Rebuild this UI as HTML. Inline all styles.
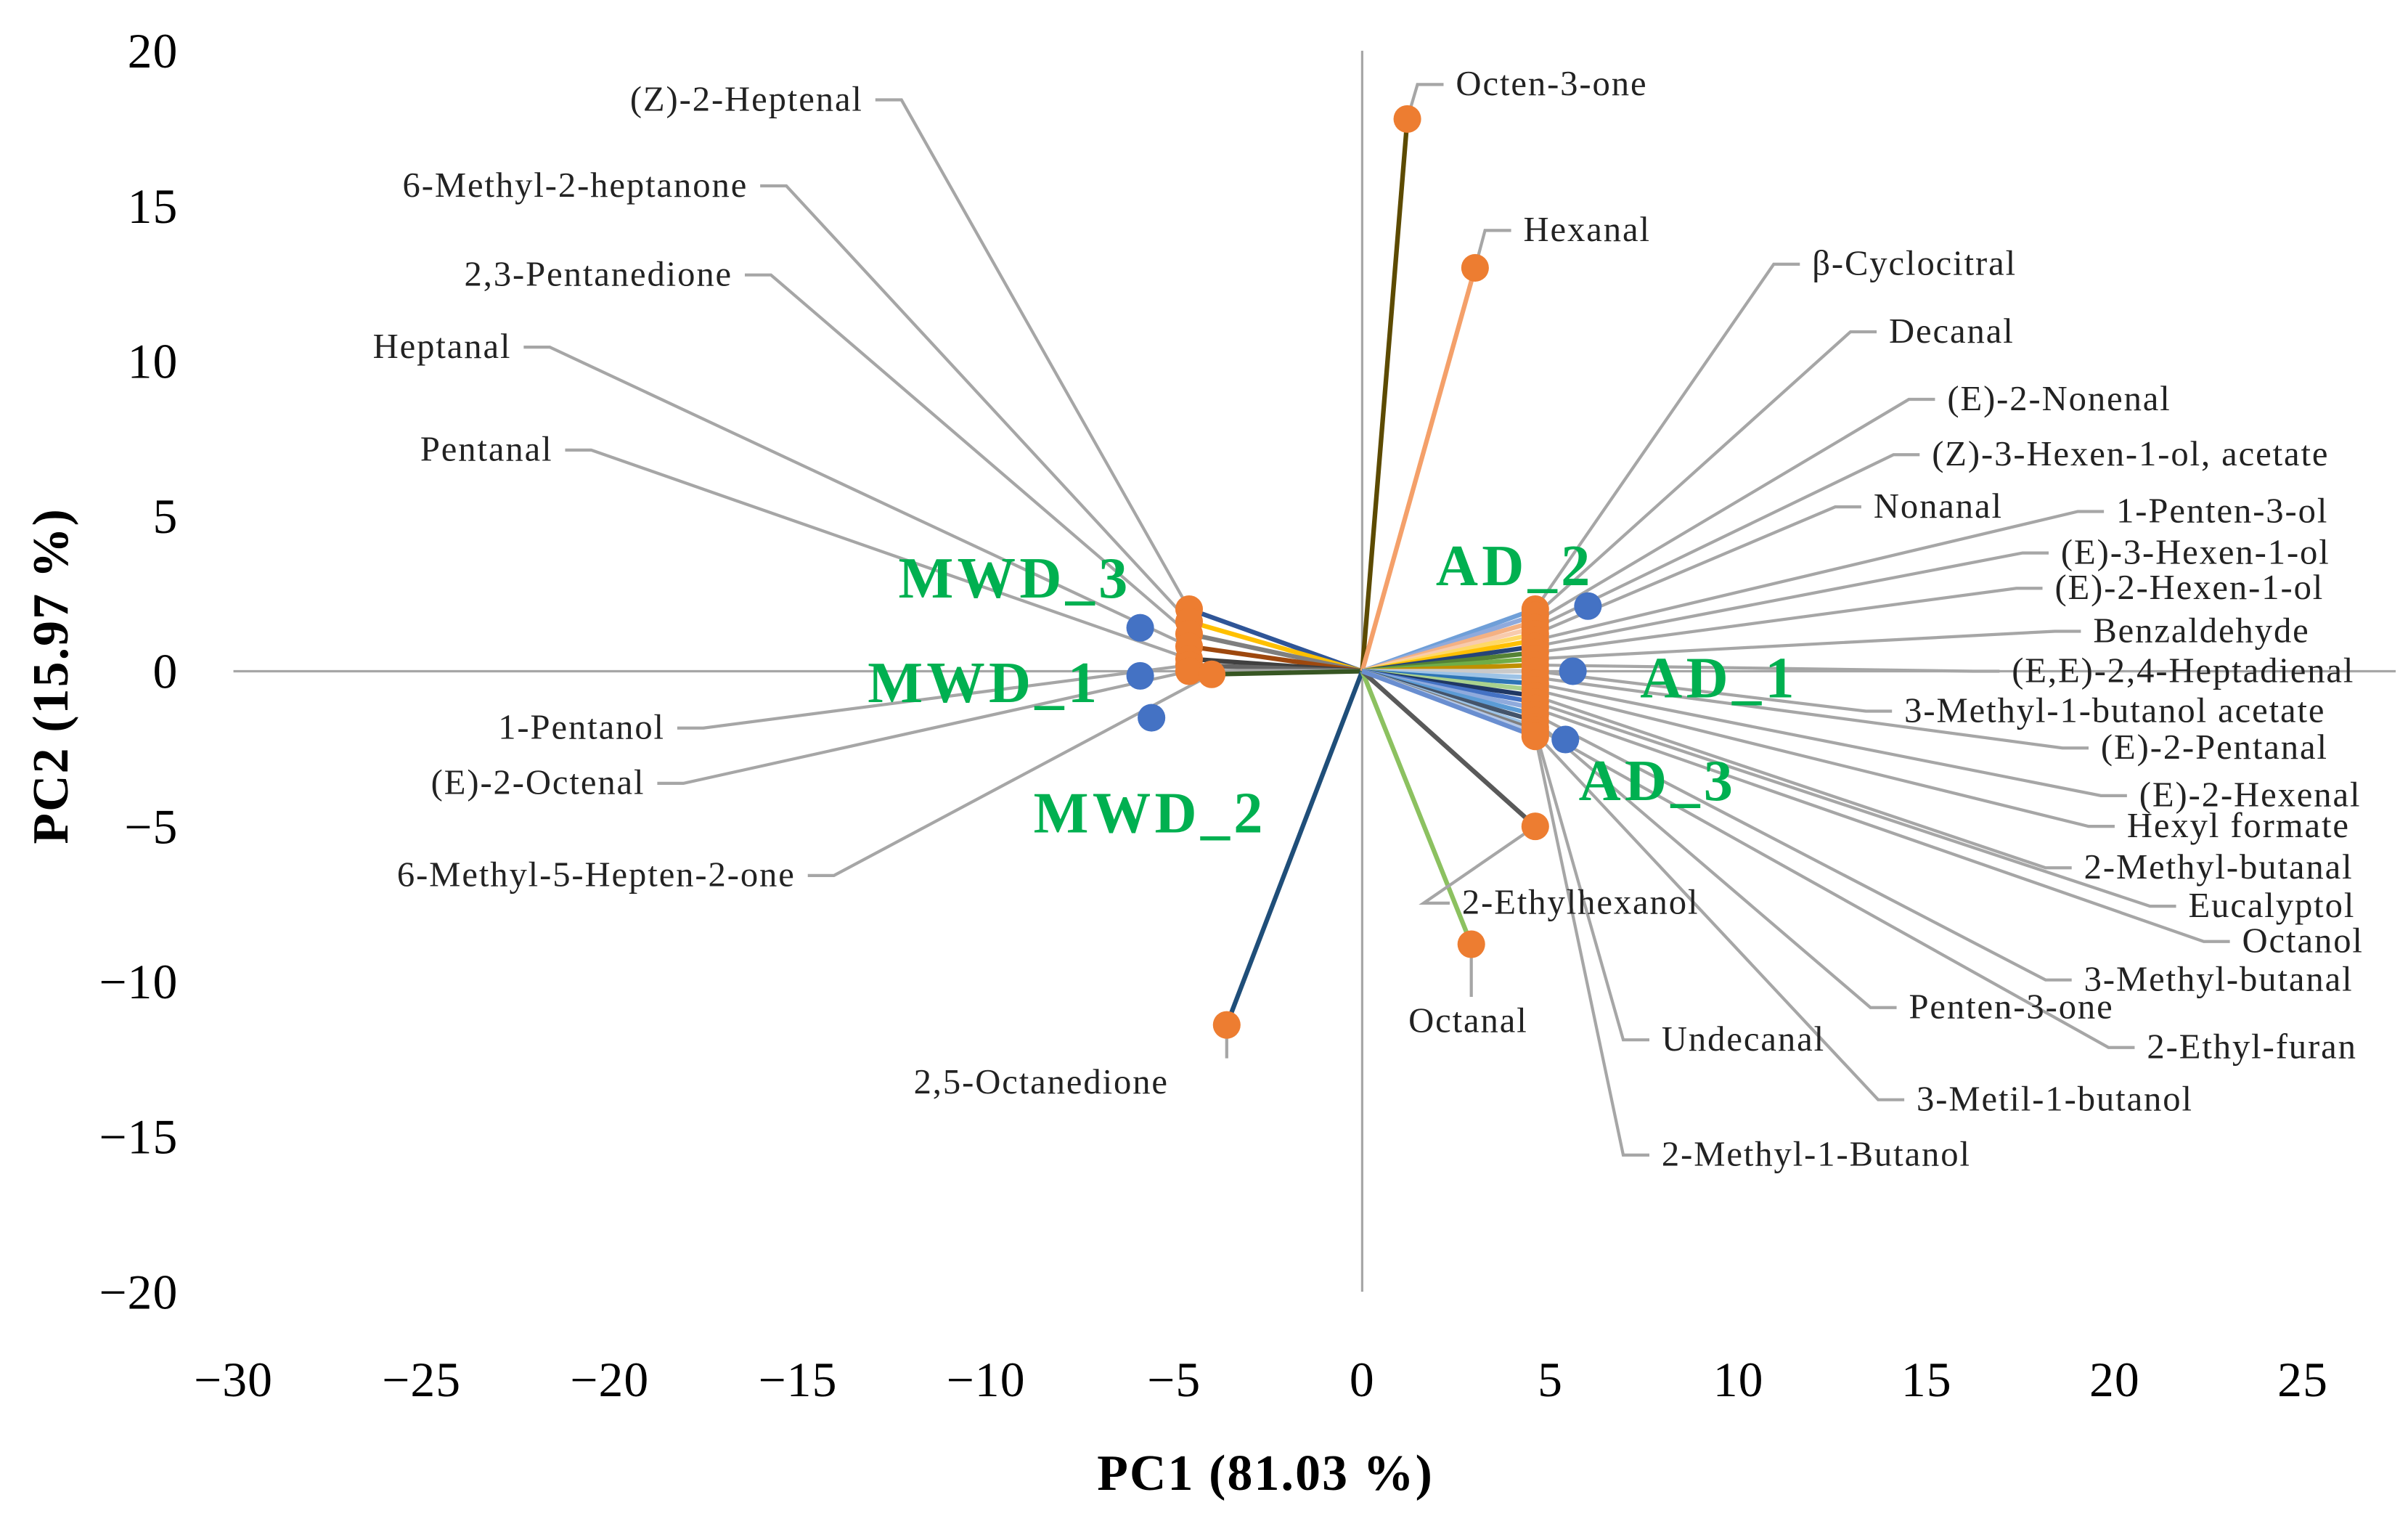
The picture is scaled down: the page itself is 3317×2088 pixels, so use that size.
<!DOCTYPE html>
<html><head><meta charset="utf-8"><style>
html,body{margin:0;padding:0;background:#fff}
svg{display:block}
text{font-family:"Liberation Serif",serif}
</style></head><body>
<svg id="chart" width="3317" height="2088" viewBox="0 0 1568 987" xmlns="http://www.w3.org/2000/svg">
<g id="axes"></g>
<g id="vecs"></g>
<g id="leaders"></g>
<g id="dots"></g>
<g id="labels"></g>
</svg>
<script>
const xTicks=[-30,-25,-20,-15,-10,-5,0,5,10,15,20,25];
const yTicks=[20,15,10,5,0,-5,-10,-15,-20];
const loadNames=["(Z)-2-Heptenal","6-Methyl-2-heptanone","2,3-Pentanedione","Heptanal","Pentanal","1-Pentanol","(E)-2-Octenal","6-Methyl-5-Hepten-2-one",
"Octen-3-one","Hexanal","2,5-Octanedione","Octanal","2-Ethylhexanol",
"β-Cyclocitral","Decanal","(E)-2-Nonenal","(Z)-3-Hexen-1-ol, acetate","Nonanal","1-Penten-3-ol","(E)-3-Hexen-1-ol","(E)-2-Hexen-1-ol","Benzaldehyde","(E,E)-2,4-Heptadienal","3-Methyl-1-butanol acetate","(E)-2-Pentanal","(E)-2-Hexenal","Hexyl formate","2-Methyl-butanal","Eucalyptol","Octanol","3-Methyl-butanal","Penten-3-one","2-Ethyl-furan","Undecanal","3-Metil-1-butanol","2-Methyl-1-Butanol"];
const loadX=[-4.6,-4.6,-4.6,-4.6,-4.6,-4.6,-4.6,-4.0, 1.2,3.0,-3.6,2.9,4.6,
4.6,4.6,4.6,4.6,4.6,4.6,4.6,4.6,4.6,4.6,4.6,4.6,4.6,4.6,4.6,4.6,4.6,4.6,4.6,4.6,4.6,4.6,4.6];
const loadY=[2.0,1.6,1.2,0.8,0.4,0.2,0.0,-0.1, 17.8,13.0,-11.4,-8.8,-5.0,
2.0,1.8,1.6,1.4,1.2,1.0,0.8,0.6,0.4,0.2,0.0,-0.2,-0.4,-0.6,-0.8,-1.0,-1.2,-1.4,-1.6,-1.8,-1.9,-2.0,-2.1];
const scoreNames=["MWD_3","MWD_1","MWD_2","AD_2","AD_1","AD_3"];
const scoreX=[-5.9,-5.9,-5.6,6.0,5.6,5.4];
const scoreY=[1.4,-0.15,-1.5,2.1,0.0,-2.2];

const X=v=>887+24.5*v, Y=v=>437-20.2*v;
const NS="http://www.w3.org/2000/svg";
function mk(parent,tag,attrs,txt){const e=document.createElementNS(NS,tag);for(const k in attrs)e.setAttribute(k,attrs[k]);if(txt!==undefined)e.textContent=txt;parent.appendChild(e);return e;}
const axes=document.getElementById('axes'),vecs=document.getElementById('vecs'),leaders=document.getElementById('leaders'),dots=document.getElementById('dots'),labels=document.getElementById('labels');

let a=mk(axes,'line',{x1:X(-30),y1:Y(0),x2:1560,y2:Y(0),stroke:'#a6a6a6','stroke-width':1.5});


a=mk(axes,'line',{x1:X(0),y1:Y(20),x2:X(0),y2:Y(-20),stroke:'#a6a6a6','stroke-width':1.5});


xTicks.forEach(t=>{const e=mk(axes,'text',{x:X(t),y:909,'font-size':32,'letter-spacing':0.5,'text-anchor':'middle',fill:'#000'},t<0?'\u2212'+(-t):String(t));

});
yTicks.forEach(t=>{const e=mk(axes,'text',{x:116,y:Y(t)+11,'font-size':32,'letter-spacing':0.5,'text-anchor':'end',fill:'#000'},t<0?'\u2212'+(-t):String(t));

});
a=mk(axes,'text',{x:824,y:970,'font-size':33,'letter-spacing':1,'font-weight':'bold','text-anchor':'middle'},'PC1 (81.03 %)');


a=mk(axes,'text',{x:0,y:0,'font-size':33,'letter-spacing':1,'font-weight':'bold','text-anchor':'middle',transform:'translate(44,440) rotate(-90)'},'PC2 (15.97 %)');



const vecColors=["#2f5597","#ffc000","#7f7f7f","#9e480e","#404040","#636363","#a5a5a5","#375623",
"#5c4a00","#f4a06a","#1f4e79","#8cc160","#595959",
"#6f9fd8","#8faadc","#f4b183","#f8cbad","#ffd966","#ffc000","#264478","#548235","#70ad47","#bf9000","#c9c9c9","#9dc3e6","#2e75b6","#a9d18e","#203864","#4472c4","#8faadc","#5b9bd5","#44546a","#9dc3e6","#7f7f7f","#b4c7e7","#698ed0"];
// label layout (display units): [x, y(center), side]
const labPos=[[562,65,'L'],[487,121,'L'],[477,179,'L'],[333,226,'L'],[360,293,'L'],[433,474,'L'],[420,510,'L'],[518,570,'L'],
[948,55,'R'],[992,150,'R'],[678,705,'C'],[956,665,'C'],[952,588,'R'],
[1180,172,'R'],[1230,216,'R'],[1268,260,'R'],[1258,296,'R'],[1220,330,'R'],[1378,333,'R'],[1342,360,'R'],[1338,383,'R'],[1363,411,'R'],[1310,437,'R'],[1240,463,'R'],[1368,487,'R'],[1393,518,'R'],[1385,538,'R'],[1357,565,'R'],[1425,590,'R'],[1460,613,'R'],[1357,638,'R'],[1243,656,'R'],[1398,682,'R'],[1082,677,'R'],[1248,716,'R'],[1082,752,'R']];

loadNames.forEach((n,i)=>{
  const px=X(loadX[i]),py=Y(loadY[i]);
  const v=mk(vecs,'line',{x1:X(0),y1:Y(0),x2:px,y2:py,stroke:vecColors[i],'stroke-width':3});
  
  
  const [lx,ly,s]=labPos[i];
  let pts;
  if(s==='L')pts=`${lx+8},${ly} ${lx+25},${ly} ${px},${py}`;
  else if(s==='R')pts=`${px},${py} ${lx-25},${ly} ${lx-8},${ly}`;
  else pts=`${px},${py} ${px},${ly-16}`;
  const l=mk(leaders,'polyline',{points:pts,fill:'none',stroke:'#a6a6a6','stroke-width':2});
  
  
  const t=mk(labels,'text',{x:lx,y:ly+7,'font-size':23,'letter-spacing':0.9,'text-anchor':s==='L'?'end':(s==='C'?'middle':'start'),fill:'#222'},n);
  
  
});
scoreNames.forEach((n,i)=>{
  const c=mk(dots,'circle',{cx:X(scoreX[i]),cy:Y(scoreY[i]),r:9,fill:'#4472c4'});
  
  
});
loadNames.forEach((n,i)=>{
  const c=mk(dots,'circle',{cx:X(loadX[i]),cy:Y(loadY[i]),r:9,fill:'#ed7d31'});
  
  
});
const scoreLab=[[585,389,'start'],[565,457,'start'],[673,542,'start'],[935,381,'start'],[1068,454,'start'],[1028,521,'start']];
scoreNames.forEach((n,i)=>{
  const t=mk(labels,'text',{x:scoreLab[i][0],y:scoreLab[i][1],'font-size':38,'letter-spacing':2.5,'font-weight':'bold','text-anchor':scoreLab[i][2],fill:'#00b050'},n);
  
  
});
</script>
</body></html>
